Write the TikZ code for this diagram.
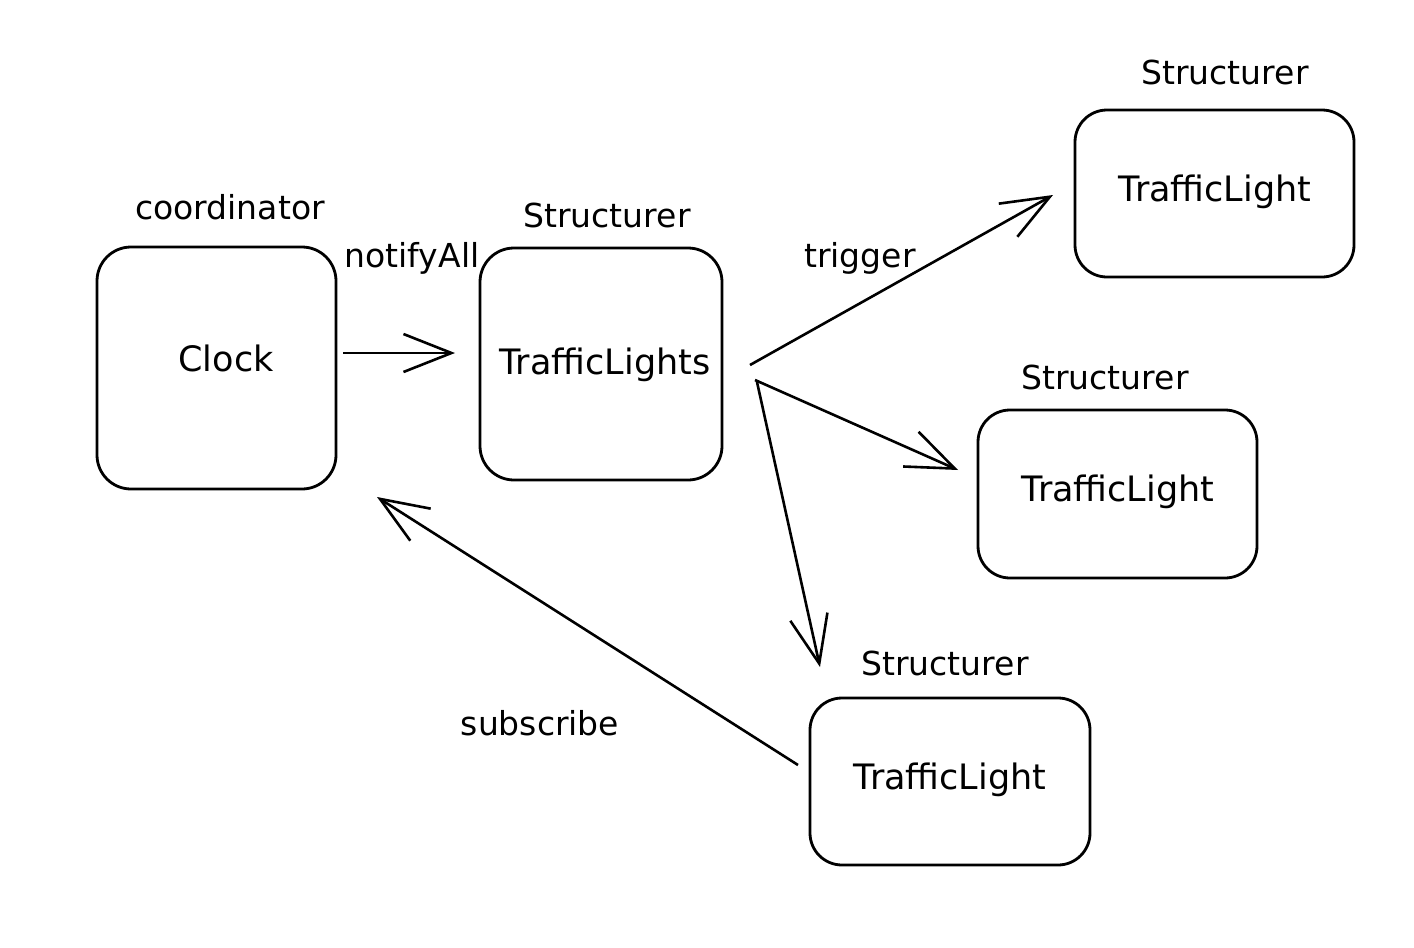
\documentclass[tikz,border=0pt]{standalone}
\usepackage{fontspec}
\setmainfont{DejaVu Sans}
\usetikzlibrary{arrows.meta}
\begin{document}
\begin{tikzpicture}[x=1pt,y=-1pt,
  box/.style={draw=black,line width=2.8pt,rounded corners=34pt,inner sep=0pt},
  lbl/.style={font=\fontsize{35}{40}\selectfont,inner sep=0pt},
  hdr/.style={font=\fontsize{33}{38}\selectfont,inner sep=0pt},
  conn/.style={line width=2.6pt,-{Straight Barb[length=48pt,width=38pt,line width=2.6pt]}}]
\useasboundingbox (0,0) rectangle (1414,948);
% boxes
\node[box,minimum width=239pt,minimum height=242pt] (clock) at (216.5,368) {};
\node[lbl] (clockl) at (226,358) {Clock};
\node[hdr] (coord) at (230,207) {coordinator};

\node[box,minimum width=242pt,minimum height=232pt] (tls) at (601,364) {};
\node[lbl] (tlsl) at (605,365) {TrafficLights};
\node[hdr] (s1) at (607,215) {Structurer};

\node[box,rounded corners=32pt,minimum width=279pt,minimum height=167pt] (tl1) at (1214.5,193.5) {};
\node[lbl] (tl1l) at (1215,192) {TrafficLight};
\node[hdr] (s2) at (1225,72) {Structurer};

\node[box,rounded corners=32pt,minimum width=279pt,minimum height=168pt] (tl2) at (1117.5,494) {};
\node[lbl] (tl2l) at (1118,492) {TrafficLight};
\node[hdr] (s3) at (1105,377) {Structurer};

\node[box,rounded corners=32pt,minimum width=280pt,minimum height=167pt] (tl3) at (950,781.5) {};
\node[lbl] (tl3l) at (950,780) {TrafficLight};
\node[hdr] (s4) at (945,663) {Structurer};

% connector end points
\coordinate (a1s) at (343,353);
\coordinate (a1e) at (455,353);
\coordinate (a2s) at (750,365);
\coordinate (a2e) at (1053,195);
\coordinate (a3s) at (755,380);
\coordinate (a3e) at (958,470);
\coordinate (a4s) at (757,382);
\coordinate (a4e) at (820,667);
\coordinate (a5s) at (798,765);
\coordinate (a5e) at (377,497);

\draw[conn] (a1s) -- (a1e);
\draw[conn] (a2s) -- (a2e);
\draw[conn] (a3s) -- (a3e);
\draw[conn] (a4s) -- (a4e);
\draw[conn] (a5s) -- (a5e);

\node[hdr] (notify) at (412,258) {notifyAll};
\node[hdr] (trig) at (860,258) {trigger};
\node[hdr] (subs) at (540,723) {subscribe};
\end{tikzpicture}
\end{document}
